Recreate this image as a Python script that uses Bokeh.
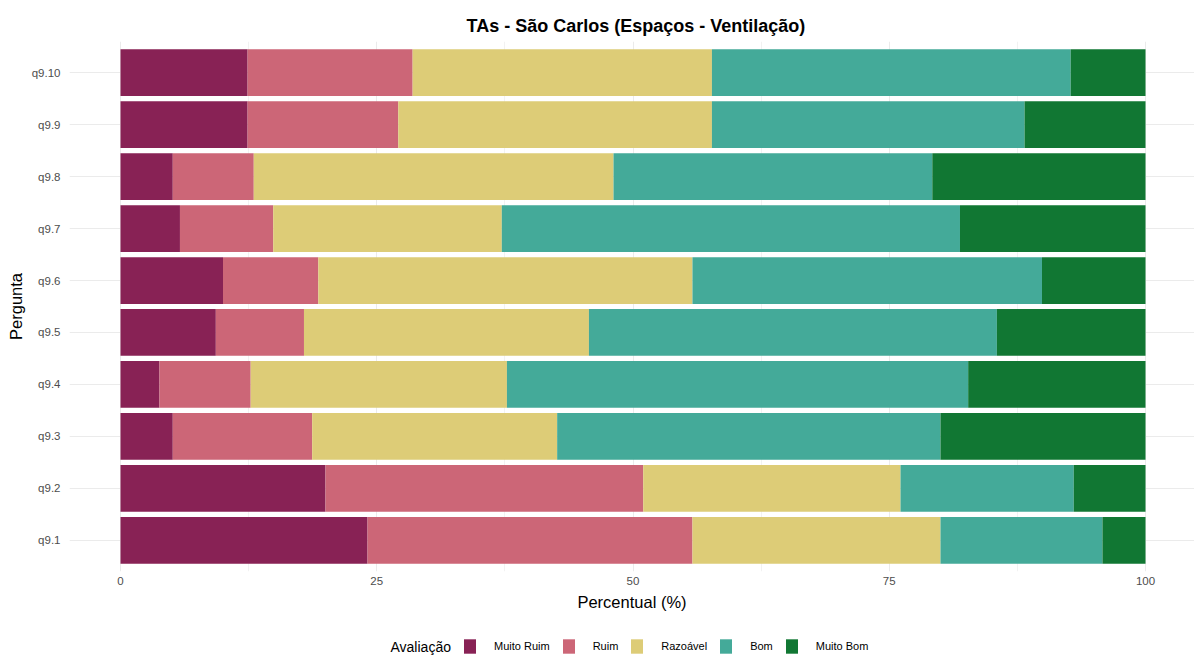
from bokeh.plotting import figure
from bokeh.layouts import column
from bokeh.models import (ColumnDataSource, FactorRange, Range1d, FixedTicker,
                          Legend, LegendItem, Label)
from bokeh.embed import file_html
from bokeh.resources import INLINE

# ---- data (percent per rating) ----
perguntas = ["q9.1", "q9.2", "q9.3", "q9.4", "q9.5",
             "q9.6", "q9.7", "q9.8", "q9.9", "q9.10"]
avaliacoes = ["Muito Ruim", "Ruim", "Razoável", "Bom", "Muito Bom"]
muito_ruim = [24.1, 20.0, 5.1, 3.8, 9.3, 10.0, 5.8, 5.1, 12.4, 12.4]
ruim = [31.7, 31.0, 13.6, 8.9, 8.6, 9.3, 9.1, 7.9, 14.7, 16.1]
razoavel = [24.2, 25.1, 23.9, 25.0, 27.8, 36.5, 22.3, 35.1, 30.6, 29.2]
bom = [15.8, 16.9, 37.4, 45.0, 39.8, 34.1, 44.7, 31.1, 30.5, 35.0]
muito_bom = [4.2, 7.0, 20.0, 17.3, 14.5, 10.1, 18.1, 20.8, 11.8, 7.3]
x_ticks = [0, 25, 50, 75, 100]

cores = ["#882255", "#CC6677", "#DDCC77", "#44AA99", "#117733"]
keys = ["muito_ruim", "ruim", "razoavel", "bom", "muito_bom"]

source = ColumnDataSource(dict(pergunta=perguntas, muito_ruim=muito_ruim,
                               ruim=ruim, razoavel=razoavel, bom=bom,
                               muito_bom=muito_bom))

FONT = "Liberation Sans"
W = 1194
H_MAIN = 614
H_TOTAL = 658

p = figure(width=W, height=H_MAIN, output_backend="svg", toolbar_location=None,
           y_range=FactorRange(factors=perguntas, range_padding=0.02),
           x_range=Range1d(-4.976, 104.78),
           min_border_left=69, min_border_right=0, min_border_top=41,
           min_border_bottom=43)
p.outline_line_color = None
p.background_fill_color = "white"
p.border_fill_color = "white"

renderers = p.hbar_stack(keys, y="pergunta", height=0.9, color=cores,
                         source=source, line_color=None)

# title
p.title.text = "TAs - São Carlos (Espaços - Ventilação)"
p.title.align = "left"
p.title.text_font = FONT
p.title.text_font_size = "18px"
p.title.text_font_style = "bold"
p.title.text_color = "black"
p.title.offset = 397
p.title.standoff = 12

# axes
xa = p.xaxis[0]
xa.ticker = FixedTicker(ticks=x_ticks, minor_ticks=[12.5, 37.5, 62.5, 87.5])
xa.axis_label = "Percentual (%)"
ya = p.yaxis[0]
ya.axis_label = "Pergunta"
for ax in (xa, ya):
    ax.axis_line_color = None
    ax.major_tick_line_color = None
    ax.minor_tick_line_color = None
    ax.major_tick_out = 0
    ax.major_tick_in = 0
    ax.minor_tick_out = 0
    ax.major_label_text_font = FONT
    ax.major_label_text_font_size = "11.5px"
    ax.major_label_text_color = "#4D4D4D"
    ax.axis_label_text_font = FONT
    ax.axis_label_text_font_size = "16.5px"
    ax.axis_label_text_font_style = "normal"
    ax.axis_label_text_color = "black"
xa.major_label_standoff = 5
xa.axis_label_standoff = 5
ya.major_label_standoff = 9
ya.axis_label_standoff = 4

# grid
p.xgrid.grid_line_color = "#EBEBEB"
p.xgrid.grid_line_width = 1
p.xgrid.minor_grid_line_color = "#F2F2F2"
p.xgrid.minor_grid_line_width = 1
p.ygrid.grid_line_color = "#EBEBEB"
p.ygrid.grid_line_width = 1

# ---- legend strip below the chart (its frame is aligned with the chart's) ----
LH = H_TOTAL - H_MAIN
pl = figure(width=W, height=LH, output_backend="svg", toolbar_location=None,
            x_range=Range1d(1000, 2000), y_range=FactorRange(factors=perguntas),
            x_axis_type=None, y_axis_type=None,
            min_border_left=69, min_border_right=0, min_border_top=0,
            min_border_bottom=0)
pl.outline_line_color = None
pl.xgrid.visible = False
pl.ygrid.visible = False
pl.background_fill_color = "white"
pl.border_fill_color = "white"

# same stacked data with zero bar height (nothing drawn): only used as legend keys
chaves = pl.hbar_stack(keys, y="pergunta", height=0, color=cores,
                       source=source, line_color=None)
items = [LegendItem(label=nome, renderers=[r]) for nome, r in zip(avaliacoes, chaves)]
legend = Legend(items=items, orientation="horizontal", location=(393, 3),
                glyph_width=15, glyph_height=18, label_height=18,
                label_standoff=17, spacing=11, padding=0, margin=0,
                border_line_color=None, background_fill_alpha=0,
                label_text_font=FONT, label_text_font_size="11px",
                label_text_color="black")
pl.add_layout(legend, "center")
pl.add_layout(Label(x=321, y=12, x_units="screen", y_units="screen",
                    text="Avaliação", text_font=FONT, text_font_size="14px",
                    text_baseline="middle", text_color="black"))

layout = column(p, pl, spacing=0)
open("out.html", "w").write(file_html(layout, INLINE))
